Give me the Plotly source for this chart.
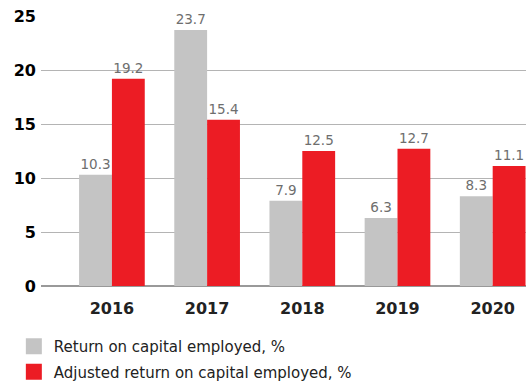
import plotly.graph_objects as go

years = ["2016", "2017", "2018", "2019", "2020"]
roce = [10.3, 23.7, 7.9, 6.3, 8.3]
adj_roce = [19.2, 15.4, 12.5, 12.7, 11.1]
series_names = ["Return on capital employed, %", "Adjusted return on capital employed, %"]

GRAY = "#c4c4c4"
RED = "#ec1c24"
FONT = "DejaVu Sans"

fig = go.Figure()
for vals, color in [(roce, GRAY), (adj_roce, RED)]:
    fig.add_trace(go.Bar(
        x=years, y=vals, marker_color=color, marker_line_width=0,
        text=[f"{v:.1f}" for v in vals], textposition="outside",
        textfont=dict(family=FONT, size=13.5, color="#6e6e6e"),
        cliponaxis=False, showlegend=False,
    ))

# legend entries with larger square swatches
for i, (name, color) in enumerate(zip(series_names, [GRAY, RED])):
    fig.add_trace(go.Scatter(
        x=[None], y=[None], mode="markers", name=name, legendgroup=f"g{i}",
        marker=dict(symbol="square", size=21, color=color),
    ))

fig.update_layout(
    width=526, height=385,
    margin=dict(l=41, r=0, t=16, b=99, autoexpand=False),
    plot_bgcolor="white", paper_bgcolor="white",
    barmode="group", bargap=0.31, bargroupgap=0,
    font=dict(family=FONT),
    showlegend=True,
    legend=dict(
        x=-0.056, y=0.143, xanchor="left", yanchor="top", yref="container",
        font=dict(family=FONT, size=15, color="#222222"),
        bgcolor="rgba(0,0,0,0)", tracegroupgap=3, itemwidth=30,
    ),
    xaxis=dict(
        range=[-0.745, 4.35], showgrid=False, ticks="",
        tickfont=dict(family=FONT, size=16, color="#222222", weight="bold"),
        ticklabelstandoff=11,
    ),
    yaxis=dict(
        range=[0, 25], dtick=5, showgrid=True, gridcolor="#b4b4b4", gridwidth=1,
        zeroline=True, zerolinecolor="#999999", zerolinewidth=1.5,
        tickfont=dict(family=FONT, size=16, color="#000000", weight="bold"),
        ticks="", ticklabelstandoff=4,
    ),
)

fig.write_html("out.html")
